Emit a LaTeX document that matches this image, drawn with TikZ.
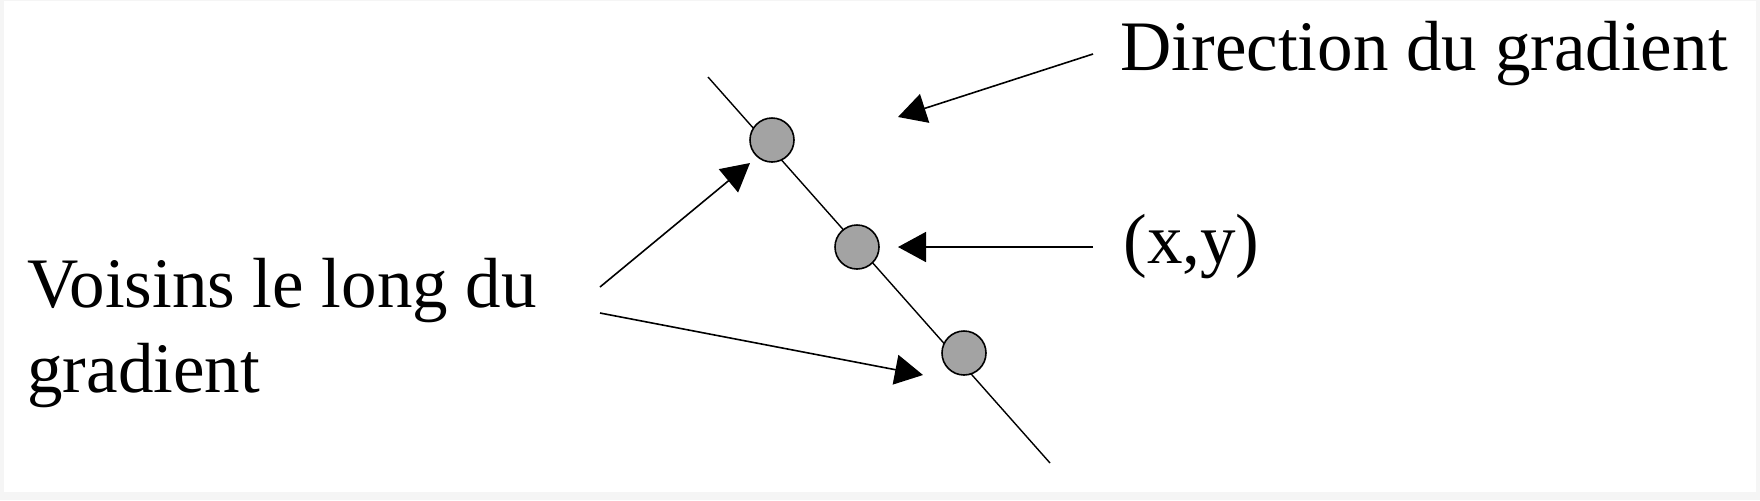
\documentclass[tikz,border=0pt]{standalone}
\usepackage{fontspec}
\setmainfont{Liberation Serif}
\usetikzlibrary{arrows.meta}
\definecolor{frame}{HTML}{F5F5F5}
\definecolor{dot}{HTML}{A3A3A3}
\tikzset{
  lbl/.style={anchor=base west, inner sep=0pt, font=\fontsize{35.5pt}{42.5pt}\selectfont},
  pt/.style={circle, draw=black, fill=dot, line width=0.8pt, minimum size=22pt, inner sep=0pt},
  arr/.style={line width=0.8pt, -{Triangle[length=14pt, width=15pt]}},
  gline/.style={line width=0.7pt}
}
\begin{document}
\begin{tikzpicture}[x=0.5pt, y=-0.5pt]
\fill[frame] (0,0) rectangle (1760,500);
\fill[white] (4,1) rectangle (1756,492);
\useasboundingbox (0,0) rectangle (1760,500);
% gradient line
\coordinate (ltop) at (708,77);
\coordinate (lbot) at (1050,463);
\draw[gline] (ltop) -- (lbot);
% points
\node[pt] (c1) at (772,140) {};
\node[pt] (c2) at (857,247) {};
\node[pt] (c3) at (964,353) {};
% labels
\node[lbl] (dir) at (1120,70) {Direction du gradient};
\node[lbl] (xy) at (1123,263) {(x,y)};
\node[lbl] (vois1) at (27,307) {Voisins le long du};
\node[lbl] (vois2) at (27,392) {gradient};
% arrow end points
\coordinate (dS) at (1093,54);
\coordinate (dT) at (898,117);
\coordinate (xS) at (1093,247);
\coordinate (xT) at (898,247);
\coordinate (uS) at (600,287);
\coordinate (uT) at (750,163);
\coordinate (lS) at (600,313);
\coordinate (lT) at (923,375);
\draw[arr] (dS) -- (dT);
\draw[arr] (xS) -- (xT);
\draw[arr] (uS) -- (uT);
\draw[arr] (lS) -- (lT);
\end{tikzpicture}
\end{document}
